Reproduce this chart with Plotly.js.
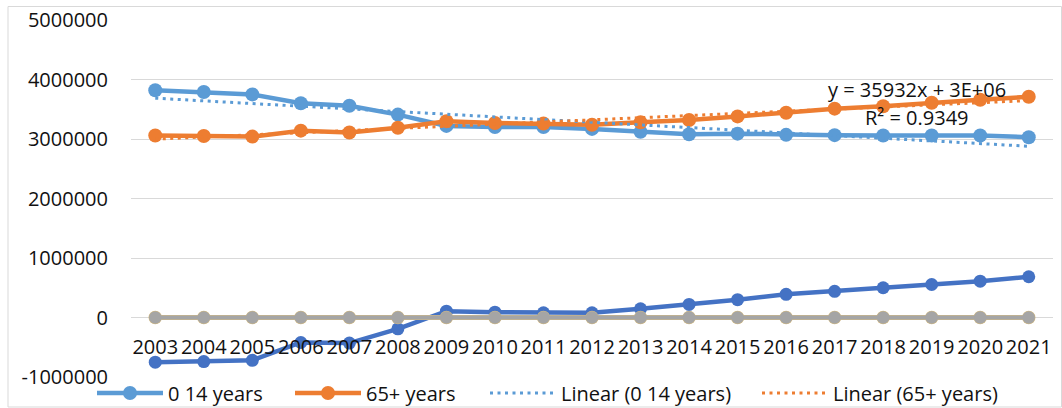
<!DOCTYPE html>
<html>
<head>
<meta charset="utf-8">
<script src="https://cdn.plot.ly/plotly-3.0.1.min.js"></script>
<style>
html,body{margin:0;padding:0;background:#fff;overflow:hidden;}
#wrap{width:1062px;height:408px;overflow:hidden;position:relative;}
#chart{width:1062px;height:440px;}
</style>
</head>
<body>
<div id="wrap"><div id="chart"></div></div>
<script>
const years = ['2003','2004','2005','2006','2007','2008','2009','2010','2011','2012','2013','2014','2015','2016','2017','2018','2019','2020','2021'];
const age0to14 = [3820000,3790000,3750000,3600000,3560000,3410000,3220000,3200000,3200000,3170000,3120000,3080000,3090000,3070000,3065000,3060000,3060000,3060000,3030000];
const age65plus = [3060000,3050000,3040000,3140000,3110000,3190000,3300000,3270000,3260000,3240000,3280000,3320000,3380000,3440000,3510000,3550000,3610000,3660000,3710000];
const difference = [-750000,-740000,-720000,-420000,-430000,-190000,106000,90000,80000,80000,146000,220000,300000,390000,440000,500000,555000,610000,685000];
const zeroA = [0,0,0,0,0,0,0,0,0,0,0,0,0,0,0,0,0,0,0];
const zeroB = [0,0,0,0,0,0,0,0,0,0,0,0,0,0,0,0,0,0,0];
const yTickVals = [-1000000,0,1000000,2000000,3000000,4000000,5000000];
const yTickText = ['-1000000','0','1000000','2000000','3000000','4000000','5000000'];
const trendLabel = ['y = 35932x + 3E+06','R² = 0.9349'];

function linearFit(vals){
  const n = vals.length;
  let sx=0, sy=0, sxx=0, sxy=0;
  for(let i=0;i<n;i++){const x=i+1; sx+=x; sy+=vals[i]; sxx+=x*x; sxy+=x*vals[i];}
  const b = (n*sxy - sx*sy)/(n*sxx - sx*sx);
  const a = (sy - b*sx)/n;
  return vals.map((_,i)=>a+b*(i+1));
}

const FONT = 'Open Sans, Liberation Sans, sans-serif';
const TXT = '#111111';
const H = 440;
const PT = 20, PB = 377;           // plot top / bottom in px
const PH = PB - PT;

const traces = [
  {x:years, y:age0to14, type:'scatter', mode:'lines+markers', name:'0 14 years',
   line:{color:'#5B9BD5', width:4.5}, marker:{color:'#5B9BD5', size:14}, legend:'legend'},
  {x:years, y:age65plus, type:'scatter', mode:'lines+markers', name:'65+ years',
   line:{color:'#ED7D31', width:4.5}, marker:{color:'#ED7D31', size:14}, legend:'legend2'},
  {x:years, y:difference, type:'scatter', mode:'lines+markers', name:'Difference',
   line:{color:'#4472C4', width:4.5}, marker:{color:'#4472C4', size:13}, showlegend:false},
  {x:years, y:zeroA, type:'scatter', mode:'lines+markers', name:'S4',
   line:{color:'#D6BB7E', width:5}, marker:{color:'#D6BB7E', size:13.5}, showlegend:false},
  {x:years, y:zeroB, type:'scatter', mode:'lines+markers', name:'S5',
   line:{color:'#A5A5A5', width:4}, marker:{color:'#A5A5A5', size:12.5}, showlegend:false},
  {x:years, y:linearFit(age0to14), type:'scatter', mode:'lines', name:'Linear (0 14 years)',
   line:{color:'#5B9BD5', width:3, dash:'3px,4.5px'}, legend:'legend3'},
  {x:years, y:linearFit(age65plus), type:'scatter', mode:'lines', name:'Linear (65+ years)',
   line:{color:'#ED7D31', width:3, dash:'3px,4.5px'}, legend:'legend4'}
];

function leg(px){
  return {x:(px-131)/922, xanchor:'left', y:(PB-393)/PH, yanchor:'middle', orientation:'h',
          bgcolor:'rgba(0,0,0,0)', font:{family:FONT, size:20, color:TXT}, itemwidth:66};
}

const layout = {
  width:1062, height:H,
  margin:{l:131, r:9, t:PT, b:H-PB},
  paper_bgcolor:'#ffffff', plot_bgcolor:'#ffffff',
  font:{family:FONT, size:20, color:TXT},
  showlegend:true,
  legend:leg(92), legend2:leg(290), legend3:leg(485), legend4:leg(757),
  xaxis:{type:'category', range:[-0.5,18.5], showgrid:false, zeroline:false, showline:false,
         anchor:'free', position:1/6, ticks:'outside', ticklen:11, tickcolor:'rgba(0,0,0,0)',
         tickfont:{family:FONT, size:20, color:TXT}, fixedrange:true},
  yaxis:{range:[-1000000,5000000], tickvals:yTickVals, ticktext:yTickText, showgrid:true,
         gridcolor:'#D9D9D9', gridwidth:1, zeroline:false, showline:false,
         ticks:'outside', ticklen:18, tickcolor:'rgba(0,0,0,0)',
         tickfont:{family:FONT, size:20, color:TXT}, fixedrange:true},
  shapes:[{type:'rect', xref:'paper', yref:'paper', x0:(8-131)/922, x1:(1061.5-131)/922,
           y0:(PB-407)/PH, y1:(PB-6.5)/PH, line:{color:'#D9D9D9', width:1}, layer:'below'}],
  annotations:[
    {xref:'paper', yref:'paper', x:(917-131)/922, y:(PB-90)/PH, text:trendLabel[0], showarrow:false,
     font:{family:FONT, size:20, color:TXT}, xanchor:'center', yanchor:'middle'},
    {xref:'paper', yref:'paper', x:(917-131)/922, y:(PB-117)/PH, text:trendLabel[1], showarrow:false,
     font:{family:FONT, size:20, color:TXT}, xanchor:'center', yanchor:'middle'}
  ]
};

Plotly.newPlot('chart', traces, layout, {displayModeBar:false, staticPlot:true});
</script>
</body>
</html>
